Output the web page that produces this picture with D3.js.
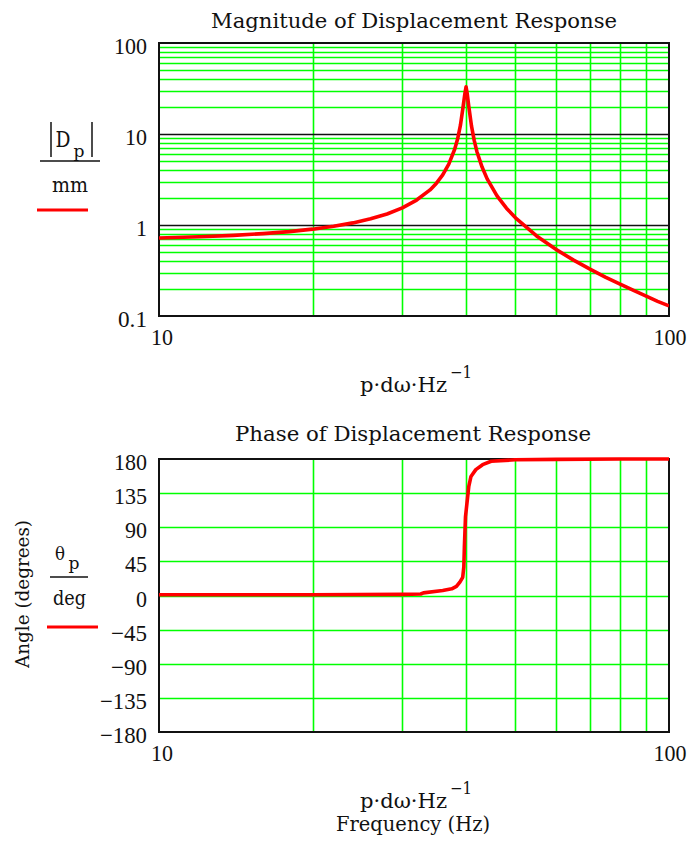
<!DOCTYPE html>
<html><head><meta charset="utf-8">
<script src="https://cdn.jsdelivr.net/npm/d3@7"></script>
<style>body{margin:0;background:#fff}svg{display:block}</style>
</head><body><svg id="c" width="690" height="842"></svg>
<script>
// ---- data ----
const magFreq = [10,12,14,16,18,20,22,24,26,28,30,32,34,35,36,37,38,38.5,39,39.5,39.8,40,40.2,40.5,41,41.5,42,43,44,46,48,50,55,60,65,70,75,80,85,90,95,100];
const magValues = [0.72,0.742,0.769,0.804,0.846,0.90,0.968,1.055,1.17,1.32,1.54,1.88,2.43,2.88,3.55,4.67,6.8,8.8,12.5,20.5,28,33,28,20.1,12.2,8.5,6.43,4.33,3.21,2.09,1.53,1.20,0.758,0.54,0.411,0.327,0.268,0.225,0.192,0.166,0.145,0.129];
const phaseFreq = [10,20,30,32.6,33,36,37.5,38.3,38.9,39.4,39.6,39.7,39.9,40.5,40.9,41.8,43.1,44.8,49.9,60,80,100];
const phaseValues = [1,1,1.5,2,3.5,6.6,8.8,12,17.7,24,37.6,64,104,144,157,166,172.5,177,179,179.5,180,180];
const xTickLabels = ["10","100"];
const magTickValues = [0.1,1,10,100];
const magTickLabels = ["0.1","1","10","100"];
const phaseTickValues = [-180,-135,-90,-45,0,45,90,135,180];
const phaseTickLabels = ["\u2212180","\u2212135","\u221290","\u221245","0","45","90","135","180"];
const freqGrid = [20,30,40,50,60,70,80,90];
const magMinorGrid = [0.2,0.3,0.4,0.5,0.6,0.7,0.8,0.9,2,3,4,5,6,7,8,9,20,30,40,50,60,70,80,90];
const magMajorGrid = [1,10];
const phaseGrid = [-135,-90,-45,0,45,90,135];

// ---- drawing ----
const svg = d3.select("#c");
const GREEN = "#00ff00", RED = "#ff0000";
const SERIF = "'DejaVu Serif', 'Liberation Serif', serif";
const NUM = "'Liberation Serif', 'Times New Roman', serif";
const L = 159, R = 669;
const x = d3.scaleLog().domain([10,100]).range([L,R]);
const yMag = d3.scaleLog().domain([0.1,100]).range([316,43]);
const yPh = d3.scaleLinear().domain([-180,180]).range([732,459]);
const px = v => Math.round(v) + 0.5;
const numW = s => Array.from(s).reduce((a,c)=>a+(c==="."?7:(c==="\u2212"?14:11)),0);

function panel(y, yTop, yBot, hMinor, hMajor, id){
  const g = svg.append("g");
  g.append("clipPath").attr("id",id).append("rect")
    .attr("x",L).attr("y",yTop-3).attr("width",R-L).attr("height",yBot-yTop+6);
  g.selectAll(".hg").data(hMinor).join("line")
    .attr("x1",L).attr("x2",R).attr("y1",d=>px(y(d))).attr("y2",d=>px(y(d)))
    .attr("stroke",GREEN).attr("stroke-width",1.6);
  g.selectAll(".vg").data(freqGrid).join("line")
    .attr("y1",yTop).attr("y2",yBot).attr("x1",d=>px(x(d))).attr("x2",d=>px(x(d)))
    .attr("stroke",GREEN).attr("stroke-width",1.6);
  g.selectAll(".hm").data(hMajor).join("line")
    .attr("x1",L).attr("x2",R).attr("y1",d=>px(y(d))).attr("y2",d=>px(y(d)))
    .attr("stroke","#111").attr("stroke-width",1.6);
  g.append("rect").attr("x",L).attr("y",yTop).attr("width",R-L).attr("height",yBot-yTop)
    .attr("fill","none").attr("stroke","#111").attr("stroke-width",2);
  const xt = [10,100];
  g.selectAll(".xl").data(xt).join("text")
    .attr("x",(d,i)=>i===0 ? x(d)+3 : x(d)+1).attr("y",yBot+29).attr("text-anchor","middle")
    .attr("font-family",NUM).attr("font-size",23).attr("fill","#111")
    .attr("textLength",(d,i)=>numW(xTickLabels[i])).attr("lengthAdjust","spacingAndGlyphs")
    .text((d,i)=>xTickLabels[i]);
  return g;
}

// top panel
const gTop = panel(yMag, 43, 316, magMinorGrid, magMajorGrid, "clipTop");
gTop.selectAll(".yl").data(magTickValues).join("text")
  .attr("x",147).attr("y",d=>yMag(d)+11).attr("text-anchor","end")
  .attr("font-family",NUM).attr("font-size",23).attr("fill","#111")
  .attr("textLength",(d,i)=>numW(magTickLabels[i])).attr("lengthAdjust","spacingAndGlyphs")
  .text((d,i)=>magTickLabels[i]);
const magLine = d3.line().x(d=>x(d[0])).y(d=>yMag(d[1]));
gTop.append("path").datum(magFreq.map((f,i)=>[f,magValues[i]]))
  .attr("d",magLine).attr("fill","none").attr("stroke",RED).attr("stroke-width",3.6)
  .attr("stroke-linejoin","round").attr("clip-path","url(#clipTop)");

// bottom panel
const gBot = panel(yPh, 459, 732, phaseGrid, [], "clipBot");
gBot.selectAll(".yl").data(phaseTickValues).join("text")
  .attr("x",147).attr("y",d=>yPh(d)+11).attr("text-anchor","end")
  .attr("font-family",NUM).attr("font-size",23).attr("fill","#111")
  .attr("textLength",(d,i)=>numW(phaseTickLabels[i])).attr("lengthAdjust","spacingAndGlyphs")
  .text((d,i)=>phaseTickLabels[i]);
const phLine = d3.line().x(d=>x(d[0])).y(d=>yPh(d[1]));
gBot.append("path").datum(phaseFreq.map((f,i)=>[f,phaseValues[i]]))
  .attr("d",phLine).attr("fill","none").attr("stroke",RED).attr("stroke-width",3.6)
  .attr("stroke-linejoin","round").attr("clip-path","url(#clipBot)");

// titles
function txt(s, xx, yy, size, len, anchor){
  const t = svg.append("text").attr("x",xx).attr("y",yy).attr("font-family",SERIF)
    .attr("font-size",size).attr("fill","#111").attr("text-anchor",anchor||"middle").text(s);
  if(len) t.attr("textLength",len).attr("lengthAdjust","spacingAndGlyphs");
  return t;
}
txt("Magnitude of Displacement Response", 414, 28, 21, 406);
txt("Phase of Displacement Response", 413, 441, 21, 356);

// x axis labels
function xlabel(base){
  txt("p\u00B7d\u03C9\u00B7Hz", 360, base, 20, 87, "start");
  txt("\u22121", 450, base-14, 17, 22, "start");
}
xlabel(392);
xlabel(808);
txt("Frequency (Hz)", 413, 831, 20, 154);

// top legend |Dp| / mm
svg.append("line").attr("x1",51).attr("x2",51).attr("y1",122).attr("y2",157).attr("stroke","#111").attr("stroke-width",1.5);
svg.append("line").attr("x1",92).attr("x2",92).attr("y1",122).attr("y2",157).attr("stroke","#111").attr("stroke-width",1.5);
txt("D", 63, 147, 23, 15);
txt("p", 79, 157, 17, 11);
svg.append("line").attr("x1",40).attr("x2",100).attr("y1",161).attr("y2",161).attr("stroke","#111").attr("stroke-width",1.5);
txt("mm", 70, 192, 21, 36);
svg.append("line").attr("x1",37).attr("x2",88).attr("y1",210).attr("y2",210).attr("stroke",RED).attr("stroke-width",3);

// bottom legend theta_p / deg
txt("\u03B8", 60, 560, 18, 10);
txt("p", 74, 569, 16, 11);
svg.append("line").attr("x1",50).attr("x2",88).attr("y1",577).attr("y2",577).attr("stroke","#111").attr("stroke-width",1.5);
txt("deg", 69.5, 605, 20, 33);
svg.append("line").attr("x1",47).attr("x2",98).attr("y1",627).attr("y2",627).attr("stroke",RED).attr("stroke-width",3);
txt("Angle (degrees)", 0, 0, 19, 148).attr("transform","translate(29,594) rotate(-90)");
</script></body></html>
